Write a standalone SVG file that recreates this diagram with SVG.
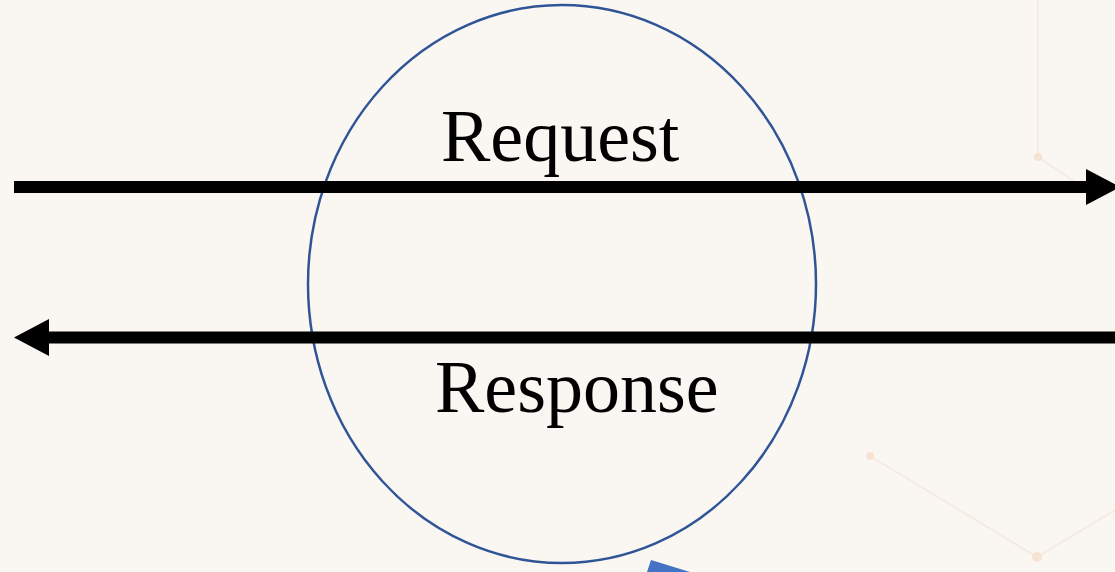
<svg xmlns="http://www.w3.org/2000/svg" width="1115" height="572" viewBox="0 0 1115 572">
  <style>
    .deco { stroke: #f4ebe2; stroke-width: 2; fill: none; }
    .dot { fill: #f7e3d4; }
    .label { font-family: "Liberation Serif", "Times New Roman", serif; font-size: 74px; fill: #000; }
    .shaft { stroke: #000; stroke-width: 12; fill: none; }
    .head { fill: #000; }
  </style>
  <rect width="1115" height="572" fill="#faf7f2"/>
  <g id="background">
    <line class="deco" x1="1038" y1="0" x2="1038" y2="157"/>
    <line class="deco" x1="1038" y1="157" x2="1080" y2="185"/>
    <circle class="dot" cx="1038" cy="157" r="4"/>
    <polyline class="deco" points="870,456 1037,557 1115,510"/>
    <circle class="dot" cx="870" cy="456" r="4"/>
    <circle class="dot" cx="1037" cy="557" r="5"/>
  </g>
  <g id="boundary">
    <ellipse cx="562" cy="284" rx="254" ry="279" fill="none" stroke="#2f5597" stroke-width="2.5"/>
  </g>
  <g id="connectors">
    <g id="request-arrow">
      <line class="shaft" x1="14" y1="187" x2="1088" y2="187"/>
      <polygon class="head" points="1086,169 1120,187 1086,205"/>
    </g>
    <g id="response-arrow">
      <line class="shaft" x1="1115" y1="337.5" x2="47" y2="337.5"/>
      <polygon class="head" points="49,319 14,337.5 49,356"/>
    </g>
  </g>
  <g id="request">
    <text class="label" x="441" y="161">Request</text>
  </g>
  <g id="response">
    <text class="label" x="435" y="412">Response</text>
  </g>
  <g id="blue-arrow">
    <polygon points="651,560 690,572 647,572" fill="#4472c4"/>
  </g>
</svg>
